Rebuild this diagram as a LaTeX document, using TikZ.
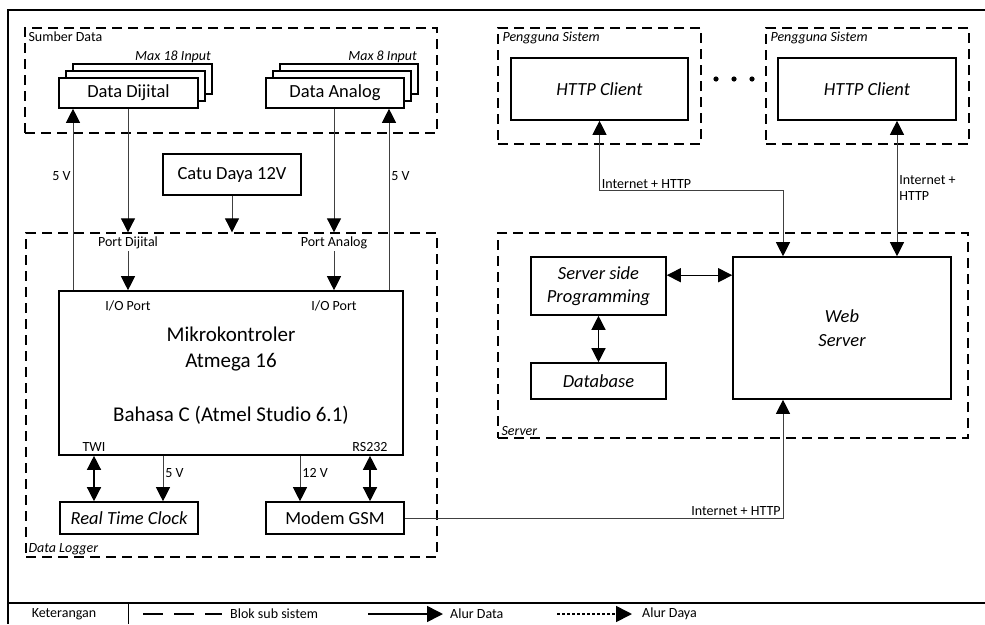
\documentclass[tikz,border=0pt]{standalone}
\usepackage{fontspec}
\setmainfont{Carlito}
\usetikzlibrary{arrows.meta, positioning, shadows}

\begin{document}
\begin{tikzpicture}[x=1pt, y=-1pt, >={Triangle[length=14pt, width=14pt, color=black]}]
    \tikzstyle{block} = [draw, line width=1.6pt, fill=white, text=black, inner sep=2pt, align=center, font=\fontsize{18.5}{23}\selectfont]
    \tikzstyle{stack} = [block, general shadow={shadow xshift=14pt, shadow yshift=14pt, draw, line width=1.6pt, fill=white}, general shadow={shadow xshift=7pt, shadow yshift=7pt, draw, line width=1.6pt, fill=white}]
    \tikzstyle{group} = [draw, line width=1.3pt, dash pattern=on 10pt off 6pt, inner sep=0pt]
    \tikzstyle{small} = [font=\fontsize{14}{16}\selectfont, inner sep=2pt]
    \tikzstyle{tag} = [small, font=\fontsize{14}{16}\selectfont\itshape]
    \tikzstyle{data} = [draw=black!75, line width=0.8pt, ->]
    \tikzstyle{dual} = [draw, line width=1.3pt, <->]
    \useasboundingbox (0,0) rectangle (985,624);

    % Frame and legend
    \draw[line width=1.3pt] (985,10) -| (8,624);
    \draw[line width=1.3pt] (8,603) -- (985,603);
    \draw[line width=1pt] (128,603) -- (128,624);
    \node[small] (ket) at (64,614) {Keterangan};
    \node[small, anchor=west] (lblok) at (228,614) {Blok sub sistem};
    \node[small, anchor=west] (ldata) at (448,614) {Alur Data};
    \node[small, anchor=west] (ldaya) at (640,614) {Alur Daya};
    \draw[line width=1.6pt, dash pattern=on 20pt off 11pt] ([xshift=-85pt]lblok.west) -- ([xshift=-6pt]lblok.west);
    \draw[line width=1.6pt, -{Triangle[length=16pt, width=16pt]}] ([xshift=-80pt]ldata.west) -- ([xshift=-5pt]ldata.west);
    \draw[line width=1.6pt, dash pattern=on 3pt off 2pt, -{Triangle[length=16pt, width=16pt]}] ([xshift=-83pt]ldaya.west) -- ([xshift=-8pt]ldaya.west);

    % Sub systems
    \node[group, minimum width=412pt, minimum height=105pt, label={[small, anchor=north west, xshift=2pt, yshift=-2pt]north west:Sumber Data}] (sumber) at (231,80.5) {};
    \node[group, minimum width=411pt, minimum height=324pt, label={[tag, anchor=south west, xshift=1pt, yshift=1pt]south west:Data Logger}] (logger) at (231.5,395) {};
    \node[group, minimum width=203pt, minimum height=116pt, label={[tag, anchor=north west, xshift=3pt, yshift=-2pt]north west:Pengguna Sistem}] (user1) at (599.5,86) {};
    \node[group, minimum width=203pt, minimum height=116pt, label={[tag, anchor=north west, xshift=3pt, yshift=-2pt]north west:Pengguna Sistem}] (user2) at (867.5,86) {};
    \node[group, minimum width=470pt, minimum height=205pt, label={[tag, anchor=south west, xshift=2pt, yshift=1pt]south west:Server}] (server) at (733,335.5) {};

    % Data sources
    \node[stack, minimum width=139pt, minimum height=30pt] (dijital) at (128.5,93) {Data Dijital};
    \node[stack, minimum width=138pt, minimum height=30pt] (analog) at (335,93) {Data Analog};
    \node[tag, anchor=east] (max18) at (213,57) {Max 18 Input};
    \node[tag, anchor=east] (max8) at (419,57) {Max 8 Input};
    \node[block, minimum width=138pt, minimum height=41pt] (catu) at (232,174.5) {Catu Daya 12V};

    % Data logger
    \node[block, minimum width=344pt, minimum height=164pt] (mikro) at (231,373) {};
    \node[font=\fontsize{21}{26}\selectfont, align=center] (mcu) at (231,349) {Mikrokontroler\\Atmega 16};
    \node[font=\fontsize{21}{26}\selectfont] (lang) at (231,415) {Bahasa C (Atmel Studio 6.1)};
    \node[small] (pdij) at (128,243) {Port Dijital};
    \node[small] (pana) at (334,243) {Port Analog};
    \node[small] (io1) at (128,306) {I/O Port};
    \node[small] (io2) at (334,306) {I/O Port};
    \node[small] (twi) at (94,447) {TWI};
    \node[small] (rs) at (370,447) {RS232};
    \node[block, font=\fontsize{18.5}{23}\selectfont\itshape, minimum width=138pt, minimum height=32pt] (rtc) at (129,518) {Real Time Clock};
    \node[block, minimum width=138pt, minimum height=32pt] (modem) at (335,518) {Modem GSM};

    % Users and server
    \node[block, font=\fontsize{18.5}{23}\selectfont\itshape, minimum width=177pt, minimum height=62pt] (client1) at (599.5,89) {HTTP Client};
    \node[block, font=\fontsize{18.5}{23}\selectfont\itshape, minimum width=178pt, minimum height=62pt] (client2) at (867,89) {HTTP Client};
    \foreach \x in {716,734,752} \fill (\x,79) circle (2.6pt);
    \node[block, font=\fontsize{18.5}{23}\selectfont\itshape, minimum width=135pt, minimum height=58pt] (ssp) at (598.5,286) {Server side\\Programming};
    \node[block, font=\fontsize{18.5}{23}\selectfont\itshape, minimum width=135pt, minimum height=36pt] (db) at (598.5,381) {Database};
    \node[block, font=\fontsize{18.5}{24}\selectfont\itshape, minimum width=218pt, minimum height=142pt] (web) at (842,328) {Web\\Server};

    % Connections
    \coordinate (p5a) at (73,0);
    \coordinate (p5b) at (389,0);
    \coordinate (p5c) at (163,0);
    \coordinate (p12) at (300,0);
    \coordinate (wa) at (783,0);
    \coordinate (wb) at (897,0);
    \coordinate (sspr) at ([yshift=-19pt]ssp.north east);
    \draw[data] (p5a |- mikro.north) -- node[small, pos=0.63, left] {5 V} (p5a |- dijital.south);
    \draw[data] (p5b |- mikro.north) -- node[small, pos=0.63, right] {5 V} (p5b |- analog.south);
    \draw[data] (pdij |- dijital.south) -- (pdij |- logger.north);
    \draw[data] (pana |- analog.south) -- (pana |- logger.north);
    \draw[data] (catu) -- (catu |- logger.north);
    \draw[data] (pdij.south) -- (pdij |- mikro.north);
    \draw[data] (pana.south) -- (pana |- mikro.north);
    \draw[dual] (twi |- mikro.south) -- (twi |- rtc.north);
    \draw[data] (p5c |- mikro.south) -- node[small, pos=0.37, right] {5 V} (p5c |- rtc.north);
    \draw[data] (p12 |- mikro.south) -- node[small, pos=0.37, right] {12 V} (p12 |- modem.north);
    \draw[dual] (rs |- mikro.south) -- (rs |- modem.north);
    \draw[data] (modem.east) -| node[small, pos=0.5, above left] {Internet + HTTP} (wa |- web.south);
    \draw[data, <->] (client1.south) -- ++(0,70) node[small, above right] {Internet + HTTP} -| (wa |- web.north);
    \draw[data, <->] (wb |- client2.south) -- node[small, right, align=left] {Internet +\\HTTP} (wb |- web.north);
    \draw[dual] (sspr) -- (sspr -| web.west);
    \draw[dual] (ssp) -- (db);
\end{tikzpicture}
\end{document}
